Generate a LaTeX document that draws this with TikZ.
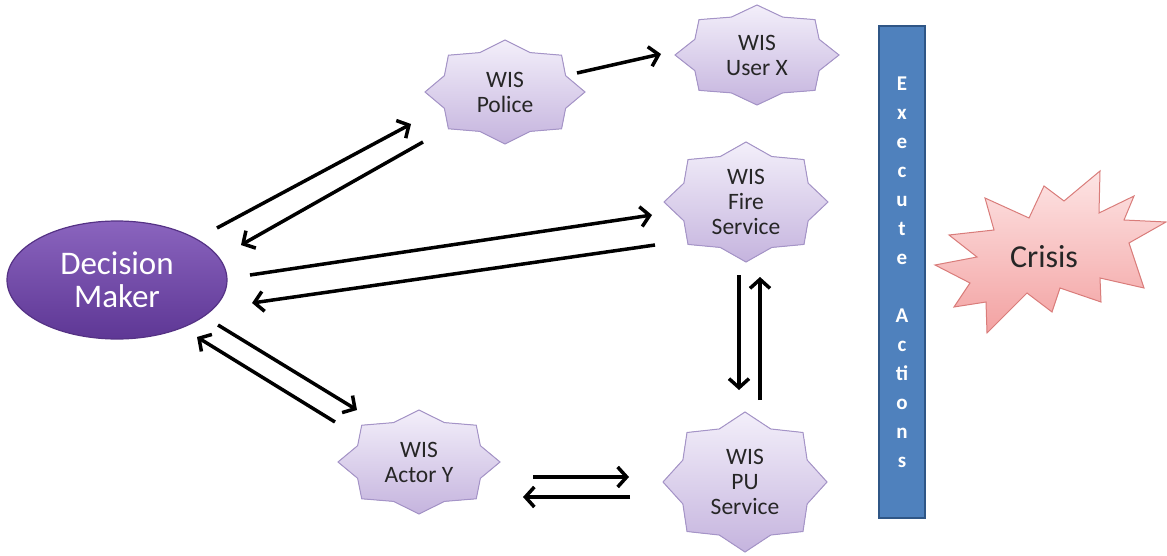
\documentclass[tikz,border=0pt]{standalone}
\usepackage{fontspec}
\setmainfont{Carlito}
\usetikzlibrary{shapes.geometric,arrows.meta,calc,backgrounds}
\definecolor{wistop}{HTML}{F3EFFA}
\definecolor{wisbot}{HTML}{C5B4DE}
\definecolor{wisline}{HTML}{A594C8}
\definecolor{dmtop}{HTML}{8A64BE}
\definecolor{dmbot}{HTML}{5E3795}
\definecolor{dmline}{HTML}{553285}
\definecolor{barfill}{HTML}{4F81BD}
\definecolor{barline}{HTML}{2F5686}
\definecolor{crtop}{HTML}{FDE4E4}
\definecolor{crbot}{HTML}{F3A2A2}
\definecolor{crline}{HTML}{D97C7A}

\tikzset{
    wistext/.style={align=center,font=\fontsize{23.5}{25}\selectfont,text=black!85},
    wisfill/.style={draw=wisline,line width=1pt,top color=wistop,bottom color=wisbot},
    dmnode/.style={ellipse,draw=dmline,line width=1.2pt,top color=dmtop,bottom color=dmbot,
        minimum width=220pt,minimum height=118pt,inner sep=0pt,align=center,
        text=white,font=\fontsize{33}{33}\selectfont},
    actbar/.style={rectangle,draw=barline,line width=1.5pt,fill=barfill,
        minimum width=46pt,minimum height=492pt,inner sep=0pt,align=center,
        text=white,font=\fontsize{21}{29}\selectfont\bfseries},
    arr/.style={line width=3.5pt,-{Straight Barb[length=9pt,width=20pt]}},
}

% 8 pointed star round a named node: #1 name, #2 x radius, #3 y radius
\newcommand{\wisstar}[3]{%
    \filldraw[wisfill] ($(#1)+(#2,0)$)
        \foreach \k in {1,...,15}{ -- ($(#1)+({(1-0.18*mod(\k,2))*#2*cos(22.5*\k)},{(1-0.18*mod(\k,2))*#3*sin(22.5*\k)})$)} -- cycle;}

\begin{document}
\begin{tikzpicture}[x=1pt,y=-1pt]
    \useasboundingbox (0,0) rectangle (1167,556);

    \node[dmnode] (dm) at (117,280) {Decision\\Maker};
    \node[wistext] (pol) at (505,92) {WIS\\Police};
    \node[wistext] (usx) at (757,55) {WIS\\User X};
    \node[wistext] (fire) at (746,202) {WIS\\Fire\\Service};
    \node[wistext] (acty) at (419,462) {WIS\\Actor Y};
    \node[wistext] (pu) at (745,482) {WIS\\PU\\Service};
    \node[actbar] (act) at (902,272) {E\\x\\e\\c\\u\\t\\e\\[29pt]A\\c\\ti\\o\\n\\s};
    \node[font=\fontsize{32}{34}\selectfont,text=black!85] (crisis) at (1044,257) {Crisis};

    \begin{scope}[on background layer]
        \wisstar{pol}{80}{52}
        \wisstar{usx}{82}{50}
        \wisstar{fire}{82}{60}
        \wisstar{acty}{81}{52}
        \wisstar{pu}{82}{70}
        %\filldraw[fill=crbot] (crisis) circle [radius=60];
        \draw[crline,line width=1pt,top color=crtop,bottom color=crbot]
            (935,265) -- (977,257) -- (949,235) -- (994,230) -- (985,198) -- (1029,218)
            -- (1044,186) -- (1064,201) -- (1100,171) -- (1099,213) -- (1134,196) -- (1124,220)
            -- (1166,222) -- (1129,243) -- (1144,288) -- (1100,278) -- (1101,302) -- (1060,288)
            -- (1052,312) -- (1027,293) -- (987,333) -- (986,302) -- (954,307) -- (970,283) -- cycle;
    \end{scope}

    \draw[arr] ($(dm)+(100,-52)$) -- ($(pol)+(-94,32)$);
    \draw[arr] ($(pol)+(-82,50)$) -- ($(dm)+(124,-35)$);
    \draw[arr] ($(pol)+(72,-19)$) -- ($(usx)+(-96,-1)$);
    \draw[arr] ($(dm)+(133,-5)$) -- ($(fire)+(-94,13)$);
    \draw[arr] ($(fire)+(-91,43)$) -- ($(dm)+(135,23)$);
    \draw[arr] ($(dm)+(101,45)$) -- ($(acty)+(-62,-52)$);
    \draw[arr] ($(acty)+(-84,-40)$) -- ($(dm)+(80,57)$);
    \draw[arr] ($(fire)+(-7,73)$) -- ($(pu)+(-6,-92)$);
    \draw[arr] ($(pu)+(15,-82)$) -- ($(fire)+(14,75)$);
    \draw[arr] ($(acty)+(114,15)$) -- ($(pu)+(-116,-5)$);
    \draw[arr] ($(pu)+(-115,15)$) -- ($(acty)+(104,35)$);
\end{tikzpicture}
\end{document}
